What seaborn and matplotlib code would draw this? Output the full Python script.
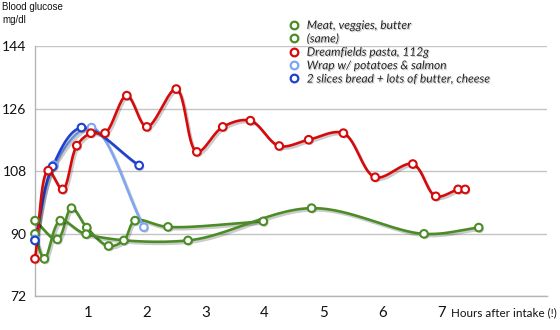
import numpy as np
import pandas as pd
import matplotlib
matplotlib.use("Agg")
import matplotlib.pyplot as plt
import matplotlib.patheffects as pe
from matplotlib.lines import Line2D
import seaborn as sns

# Blood glucose readings (hours after intake, mg/dl)
meat_t = [0.10, 0.48, 0.72, 0.98, 1.35, 1.61, 1.80, 2.36, 3.98]
meat_v = [93.7, 88.3, 97.3, 91.7, 86.4, 88.0, 93.7, 91.9, 93.5]

same_t = [0.10, 0.26, 0.53, 0.97, 2.70, 4.80, 6.71, 7.64]
same_v = [89.9, 82.7, 93.7, 89.8, 88.0, 97.3, 89.9, 91.7]

pasta_t = [0.10, 0.325, 0.57, 0.81, 1.05, 1.29, 1.66, 2.00, 2.50, 2.85,
           3.29, 3.76, 4.25, 4.75, 5.34, 5.88, 6.52, 6.91, 7.29, 7.41]
pasta_v = [82.7, 108.1, 102.7, 115.3, 118.9, 118.9, 129.7, 120.7, 131.6, 113.5,
           120.7, 122.5, 115.2, 117.0, 118.9, 106.2, 110.0, 100.7, 102.7, 102.7]

wrap_t = [0.10, 0.42, 1.06, 1.95]
wrap_v = [88.3, 109.7, 120.5, 91.8]

bread_t = [0.10, 0.40, 0.89, 1.87]
bread_v = [88.0, 109.3, 120.5, 109.6]

series_names = ["Meat, veggies, butter", "(same)", "Dreamfields pasta, 112g",
                "Wrap w/ potatoes & salmon", "2 slices bread + lots of butter, cheese"]
series_colors = ["#4b8c26", "#4b8c26", "#d60a0a", "#7fa6f0", "#1f40d0"]

x_ticks = [1, 2, 3, 4, 5, 6, 7]
y_ticks = [72, 90, 108, 126, 144]


def smooth(ts, vs, sx=58.8, sy=62.5 / 18, n=24, alpha=0.5):
    """Centripetal Catmull-Rom curve through the readings."""
    P = np.column_stack([np.asarray(ts) * sx, np.asarray(vs) * sy])
    P = np.vstack([2 * P[0] - P[1], P, 2 * P[-1] - P[-2]])
    out = []
    for i in range(1, len(P) - 2):
        p0, p1, p2, p3 = P[i - 1], P[i], P[i + 1], P[i + 2]
        d = lambda a, b: max(np.linalg.norm(b - a), 1e-6) ** alpha
        t0 = 0.0
        t1 = t0 + d(p0, p1)
        t2 = t1 + d(p1, p2)
        t3 = t2 + d(p2, p3)
        t = np.linspace(t1, t2, n)[:, None]
        A1 = (t1 - t) / (t1 - t0) * p0 + (t - t0) / (t1 - t0) * p1
        A2 = (t2 - t) / (t2 - t1) * p1 + (t - t1) / (t2 - t1) * p2
        A3 = (t3 - t) / (t3 - t2) * p2 + (t - t2) / (t3 - t2) * p3
        B1 = (t2 - t) / (t2 - t0) * A1 + (t - t0) / (t2 - t0) * A2
        B2 = (t3 - t) / (t3 - t1) * A2 + (t - t1) / (t3 - t1) * A3
        C = (t2 - t) / (t2 - t1) * B1 + (t - t1) / (t2 - t1) * B2
        out.append(C if i == 1 else C[1:])
    C = np.vstack(out)
    return C[:, 0] / sx, C[:, 1] / sy


sns.set_theme(style="white")
plt.rcParams["font.family"] = ["Lato", "DejaVu Sans"]

fig = plt.figure(figsize=(5.6, 3.3), dpi=100)
ax = fig.add_axes([35 / 560, 1 - 296 / 330, (547 - 35) / 560, (296 - 46) / 330])

line_fx = [pe.SimpleLineShadow(offset=(1.2, -1.5), shadow_color="black", alpha=0.2), pe.Normal()]
mark_fx = [pe.SimplePatchShadow(offset=(1.0, -1.2), shadow_rgbFace="black", alpha=0.2), pe.Normal()]

data = [(meat_t, meat_v), (same_t, same_v), (pasta_t, pasta_v),
        (wrap_t, wrap_v), (bread_t, bread_v)]
order = [0, 1, 3, 4, 2]
for i in order:
    ts, vs = data[i]
    cx, cy = smooth(ts, vs)
    curve = pd.DataFrame({"t": cx, "v": cy})
    sns.lineplot(data=curve, x="t", y="v", sort=False, estimator=None, ax=ax,
                 color=series_colors[i], linewidth=1.9, path_effects=line_fx,
                 clip_on=False, zorder=3)
    pts = pd.DataFrame({"t": ts, "v": vs})
    sns.scatterplot(data=pts, x="t", y="v", ax=ax, s=30, marker="o",
                    facecolor="white", edgecolor=series_colors[i], linewidth=1.5,
                    clip_on=False, zorder=4, path_effects=mark_fx)

ax.set_xlim(0.1, 8.8)
ax.set_ylim(72, 144)
ax.set_xticks(x_ticks)
ax.set_xticklabels([str(t) for t in x_ticks])
ax.set_yticks(y_ticks)
ax.set_yticklabels([str(t) for t in y_ticks])
ax.set_xlabel("")
ax.set_ylabel("")
ax.tick_params(axis="both", length=0, labelsize=10.8, colors="#111111")
ax.tick_params(axis="y", pad=6, labelsize=10)
ax.tick_params(axis="x", pad=7)
ax.yaxis.grid(True, color="#c4c4c4", linewidth=1.0)
ax.set_axisbelow(True)
for side in ["top", "right"]:
    ax.spines[side].set_visible(False)
for side in ["left", "bottom"]:
    ax.spines[side].set_color("#b4b4b4")
    ax.spines[side].set_linewidth(1.0)

fig.text(2 / 560, 1 - 13.5 / 330, "Blood glucose\nmg/dl", family=["Liberation Sans", "DejaVu Sans"],
         fontsize=7, va="center", ha="left", linespacing=1.3, color="#111111")
fig.text(557 / 560, 1 - 313 / 330, "Hours after intake (!)", fontsize=8.4,
         va="center", ha="right", color="#111111")

handles = [Line2D([], [], linestyle="none", marker="o", markersize=5.5,
                  markerfacecolor="white", markeredgecolor=c, markeredgewidth=1.6)
           for c in series_colors]
leg = fig.legend(handles, series_names, loc="upper left",
                 bbox_to_anchor=(287 / 560, 1 - 20 / 330), frameon=False,
                 prop={"family": "Lato", "style": "italic", "size": 8.6},
                 handletextpad=0.55, labelspacing=0.2, handlelength=1.1,
                 borderaxespad=0, borderpad=0)
for txt in leg.get_texts():
    txt.set_path_effects([pe.withSimplePatchShadow(offset=(0.8, -0.8), shadow_rgbFace="black", alpha=0.2)])

fig.savefig("out.png", dpi=100)
